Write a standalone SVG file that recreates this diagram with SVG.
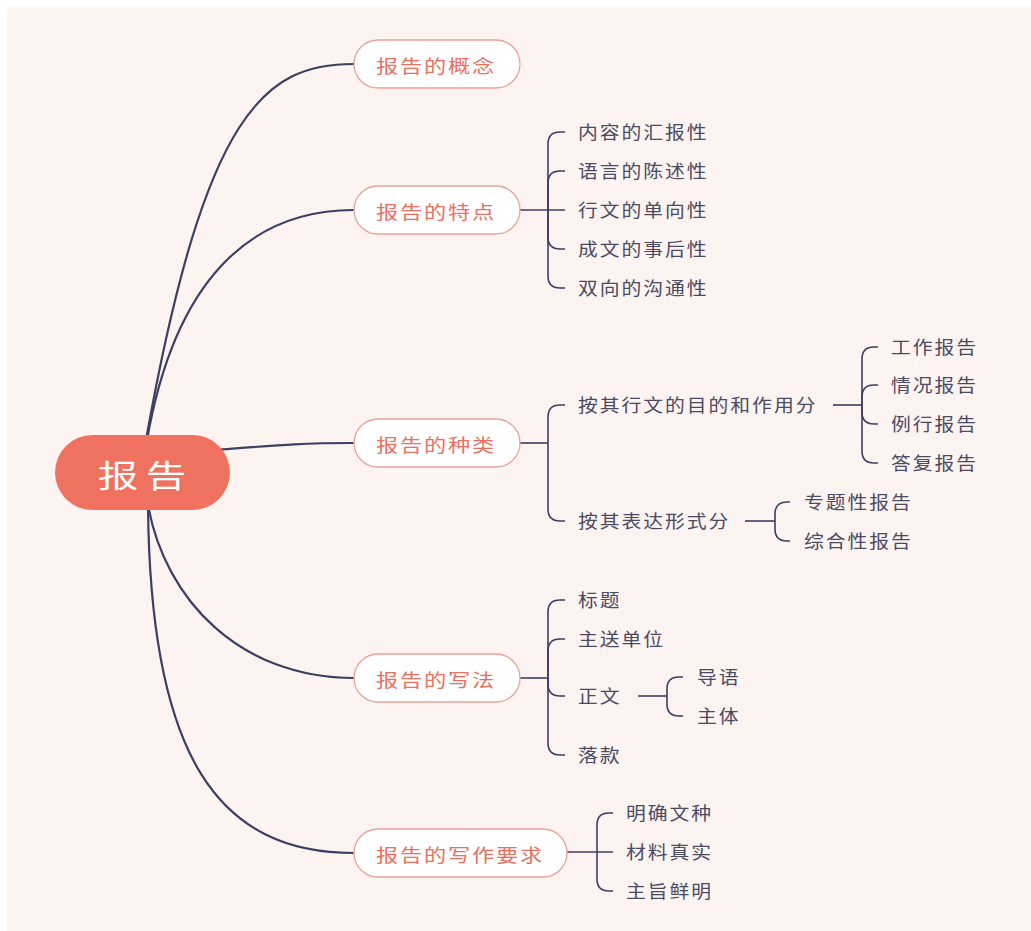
<svg xmlns="http://www.w3.org/2000/svg" width="1031" height="931" viewBox="0 0 1031 931">
  <style>
    .bg { fill: #ffffff; }
    .canvas { fill: #fdf4f2; }
    .root-shape { fill: #ef7260; }
    .root-text { fill: #ffffff; font-family: "Noto Sans CJK SC", "Noto Sans", sans-serif; font-size: 31px; letter-spacing: 6px; dominant-baseline: central; }
    .topic-shape { fill: #ffffff; stroke: #e9a396; stroke-width: 1.3; }
    .topic-text { fill: #e9705f; font-family: "Noto Sans CJK SC", "Noto Sans", sans-serif; font-size: 18.5px; letter-spacing: 1.5px; dominant-baseline: central; }
    .leaf-text { fill: #4b4a63; font-family: "Noto Sans CJK SC", "Noto Sans", sans-serif; font-size: 18px; letter-spacing: 1.8px; dominant-baseline: central; }
    .main-link { fill: none; stroke: #3c3e63; stroke-width: 2.2; }
    .brace { fill: none; stroke: #3c3e63; stroke-width: 1.6; }
  </style>

  <rect class="bg" x="0" y="0" width="1031" height="931"/>
  <rect class="canvas" x="7" y="7" width="1024" height="924"/>

  <!-- connectors -->
  <g id="connectors">
    <!-- root to first-level topics -->
    <path class="main-link" d="M146,440 C205,110 265,64 354,64"/>
    <path class="main-link" d="M147,440 C175,280 250,210 354,210"/>
    <path class="main-link" d="M215,450 C280,445 300,443 354,443"/>
    <path class="main-link" d="M148,505 C165,600 240,678 354,678"/>
    <path class="main-link" d="M148,505 C150,760 220,853 354,853"/>

    <!-- 报告的特点 -->
    <path class="brace" d="M520,210 H565"/>
    <path class="brace" d="M548,210 V144 Q548,132 560,132 H565"/>
    <path class="brace" d="M548,210 V183 Q548,171 560,171 H565"/>
    <path class="brace" d="M548,210 V237 Q548,249 560,249 H565"/>
    <path class="brace" d="M548,210 V276 Q548,288 560,288 H565"/>

    <!-- 报告的种类 -->
    <path class="brace" d="M520,443 H548"/>
    <path class="brace" d="M548,443 V417 Q548,405 560,405 H565"/>
    <path class="brace" d="M548,443 V509 Q548,521 560,521 H565"/>

    <path class="brace" d="M833,405 H862"/>
    <path class="brace" d="M862,405 V359 Q862,347 874,347 H878"/>
    <path class="brace" d="M862,405 V397 Q862,385 874,385 H878"/>
    <path class="brace" d="M862,405 V412 Q862,424 874,424 H878"/>
    <path class="brace" d="M862,405 V451 Q862,463 874,463 H878"/>

    <path class="brace" d="M745,521 H775"/>
    <path class="brace" d="M775,521 V514 Q775,502 787,502 H790"/>
    <path class="brace" d="M775,521 V529 Q775,541 787,541 H790"/>

    <!-- 报告的写法 -->
    <path class="brace" d="M520,678 H548"/>
    <path class="brace" d="M548,678 V612 Q548,600 560,600 H565"/>
    <path class="brace" d="M548,678 V651 Q548,639 560,639 H565"/>
    <path class="brace" d="M548,678 V684 Q548,696 560,696 H565"/>
    <path class="brace" d="M548,678 V743 Q548,755 560,755 H565"/>

    <path class="brace" d="M638,696 H667"/>
    <path class="brace" d="M667,696 V689 Q667,677 679,677 H683"/>
    <path class="brace" d="M667,696 V704 Q667,716 679,716 H683"/>

    <!-- 报告的写作要求 -->
    <path class="brace" d="M567,852 H613"/>
    <path class="brace" d="M597,852 V825 Q597,813 609,813 H613"/>
    <path class="brace" d="M597,852 V879 Q597,891 609,891 H613"/>
  </g>

  <!-- central topic -->
  <g id="root">
    <rect class="root-shape" x="55" y="435" width="175" height="75" rx="37.5"/>
    <text class="root-text" transform="translate(98,473) scale(1.3,1)">报告</text>
  </g>

  <!-- first-level topics -->
  <g id="topic-concept">
    <rect class="topic-shape" x="354" y="40" width="166" height="48" rx="24"/>
    <text class="topic-text" transform="translate(376,64.5) scale(1.2,1)">报告的概念</text>
  </g>
  <g id="topic-features">
    <rect class="topic-shape" x="354" y="186" width="166" height="48" rx="24"/>
    <text class="topic-text" transform="translate(376,210.5) scale(1.2,1)">报告的特点</text>
  </g>
  <g id="topic-types">
    <rect class="topic-shape" x="354" y="419" width="166" height="48" rx="24"/>
    <text class="topic-text" transform="translate(376,443.5) scale(1.2,1)">报告的种类</text>
  </g>
  <g id="topic-writing">
    <rect class="topic-shape" x="354" y="654" width="166" height="48" rx="24"/>
    <text class="topic-text" transform="translate(376,678.5) scale(1.2,1)">报告的写法</text>
  </g>
  <g id="topic-requirements">
    <rect class="topic-shape" x="354" y="829" width="213" height="48" rx="24"/>
    <text class="topic-text" transform="translate(376,853.5) scale(1.2,1)">报告的写作要求</text>
  </g>

  <!-- features -->
  <g id="feature-1"><text class="leaf-text" transform="translate(578,131) scale(1.1,1)">内容的汇报性</text></g>
  <g id="feature-2"><text class="leaf-text" transform="translate(578,170) scale(1.1,1)">语言的陈述性</text></g>
  <g id="feature-3"><text class="leaf-text" transform="translate(578,209) scale(1.1,1)">行文的单向性</text></g>
  <g id="feature-4"><text class="leaf-text" transform="translate(578,248) scale(1.1,1)">成文的事后性</text></g>
  <g id="feature-5"><text class="leaf-text" transform="translate(578,287) scale(1.1,1)">双向的沟通性</text></g>

  <!-- types -->
  <g id="type-purpose"><text class="leaf-text" transform="translate(578,404) scale(1.1,1)">按其行文的目的和作用分</text></g>
  <g id="type-purpose-1"><text class="leaf-text" transform="translate(891,346) scale(1.1,1)">工作报告</text></g>
  <g id="type-purpose-2"><text class="leaf-text" transform="translate(891,384) scale(1.1,1)">情况报告</text></g>
  <g id="type-purpose-3"><text class="leaf-text" transform="translate(891,423) scale(1.1,1)">例行报告</text></g>
  <g id="type-purpose-4"><text class="leaf-text" transform="translate(891,462) scale(1.1,1)">答复报告</text></g>
  <g id="type-form"><text class="leaf-text" transform="translate(578,520) scale(1.1,1)">按其表达形式分</text></g>
  <g id="type-form-1"><text class="leaf-text" transform="translate(804,501) scale(1.1,1)">专题性报告</text></g>
  <g id="type-form-2"><text class="leaf-text" transform="translate(804,540) scale(1.1,1)">综合性报告</text></g>

  <!-- writing -->
  <g id="writing-title"><text class="leaf-text" transform="translate(578,599) scale(1.1,1)">标题</text></g>
  <g id="writing-recipient"><text class="leaf-text" transform="translate(578,638) scale(1.1,1)">主送单位</text></g>
  <g id="writing-body"><text class="leaf-text" transform="translate(578,695) scale(1.1,1)">正文</text></g>
  <g id="writing-body-1"><text class="leaf-text" transform="translate(697,676) scale(1.1,1)">导语</text></g>
  <g id="writing-body-2"><text class="leaf-text" transform="translate(697,715) scale(1.1,1)">主体</text></g>
  <g id="writing-signature"><text class="leaf-text" transform="translate(578,754) scale(1.1,1)">落款</text></g>

  <!-- requirements -->
  <g id="req-1"><text class="leaf-text" transform="translate(626,812) scale(1.1,1)">明确文种</text></g>
  <g id="req-2"><text class="leaf-text" transform="translate(626,851) scale(1.1,1)">材料真实</text></g>
  <g id="req-3"><text class="leaf-text" transform="translate(626,890) scale(1.1,1)">主旨鲜明</text></g>
</svg>
